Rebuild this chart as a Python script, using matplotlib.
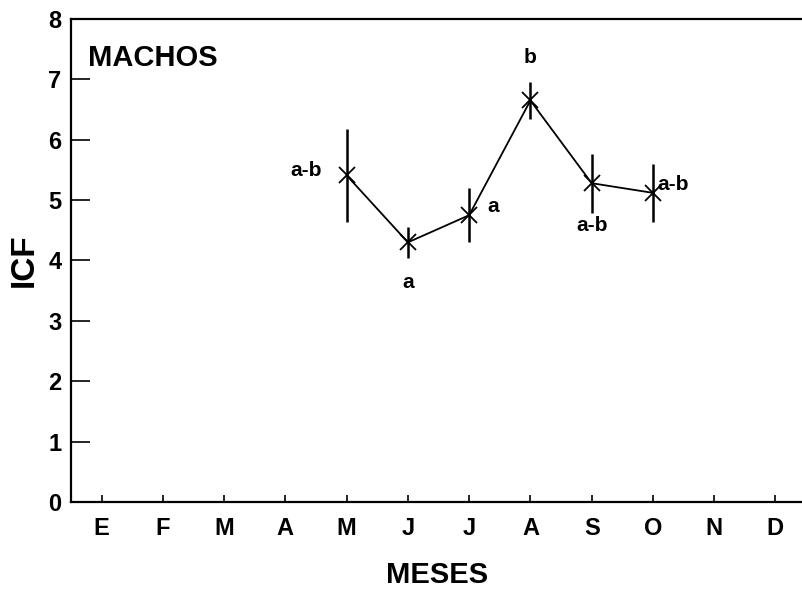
import matplotlib.pyplot as plt

plt.rcParams['font.family'] = ['Liberation Sans', 'DejaVu Sans']
plt.rcParams['font.weight'] = 'bold'

meses = ['E', 'F', 'M', 'A', 'M', 'J', 'J', 'A', 'S', 'O', 'N', 'D']
mes_num = [5, 6, 7, 8, 9, 10]
icf = [5.41, 4.30, 4.75, 6.65, 5.28, 5.12]
err = [0.77, 0.26, 0.45, 0.30, 0.49, 0.48]
letras = ['a-b', 'a', 'a', 'b', 'a-b', 'a-b']
# where each letter sits relative to its point (dx in months, dy in ICF units)
offs = [(-0.4, 0.08, 'right', 'center'), (0, -0.5, 'center', 'top'),
        (0.3, 0.15, 'left', 'center'), (0, 0.55, 'center', 'bottom'),
        (0, -0.55, 'center', 'top'), (0.07, 0.14, 'left', 'center')]

fig = plt.figure(figsize=(8.03, 5.91), dpi=100)
ax = fig.add_axes([0.0884, 0.1506, 0.9116, 0.8173])

ax.errorbar(mes_num, icf, yerr=err, color='black', lw=1.3, ecolor='black',
            elinewidth=1.8, capsize=0, marker='x', ms=11, mew=1.3)

for x, y, t, (dx, dy, ha, va) in zip(mes_num, icf, letras, offs):
    ax.text(x + dx, y + dy, t, ha=ha, va=va, fontsize=15, fontweight='bold')

ax.text(0.78, 7.35, 'MACHOS', fontsize=21, fontweight='bold', va='center')

ax.set_xlim(0.5, 12.45)
ax.set_ylim(0, 8)
ax.set_xticks(range(1, 13))
ax.set_xticklabels(meses)
ax.set_yticks(range(0, 9))
ax.tick_params(axis='x', direction='in', length=5, width=1.2, labelsize=17, pad=11)
ax.tick_params(axis='y', direction='in', length=14, width=1.2, labelsize=17, pad=7)
ax.spines['right'].set_visible(False)
for s in ['left', 'bottom', 'top']:
    ax.spines[s].set_linewidth(1.6)

ax.set_ylabel('ICF', fontsize=24, fontweight='bold', labelpad=6)
ax.set_xlabel('MESES', fontsize=21, fontweight='bold', labelpad=15)

fig.savefig('out.png', dpi=100)
